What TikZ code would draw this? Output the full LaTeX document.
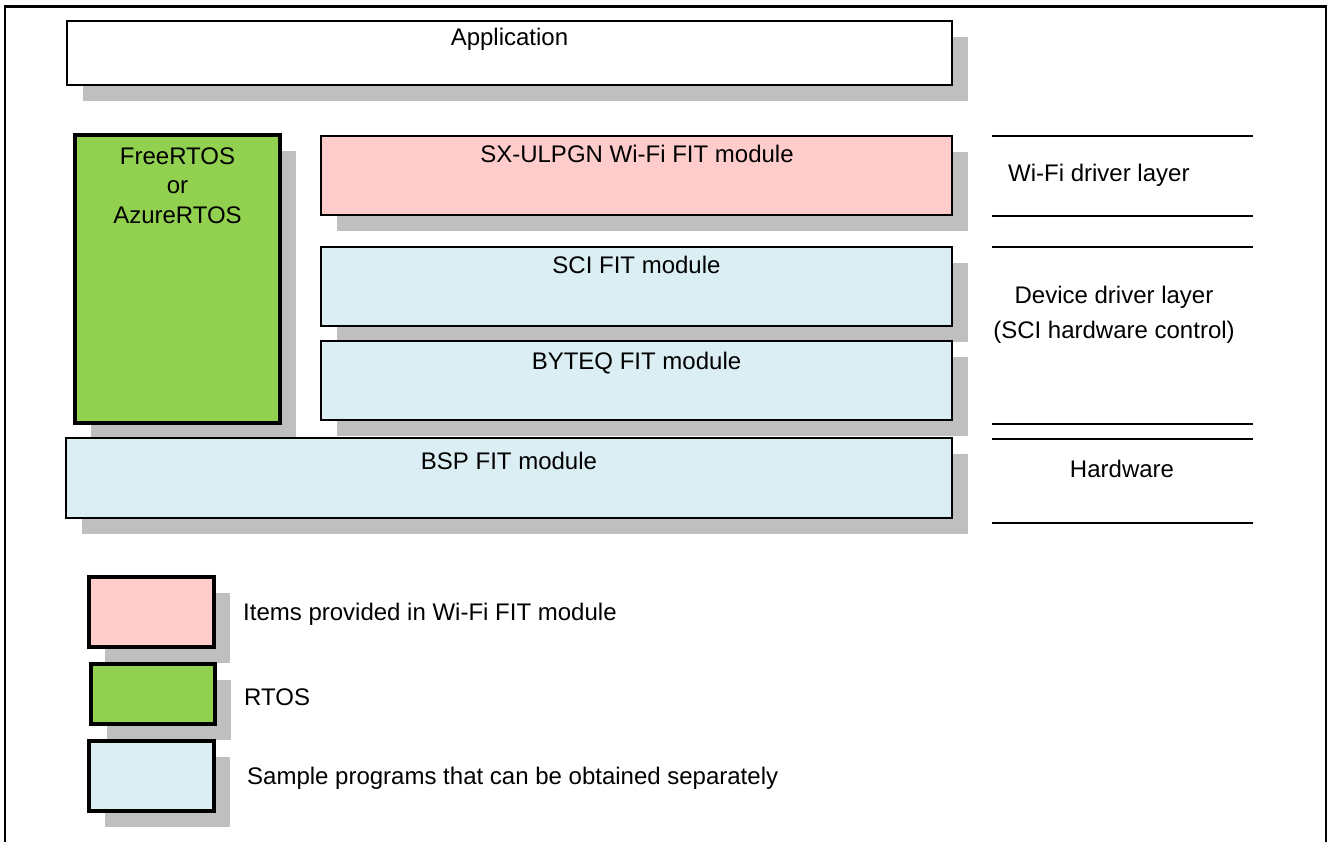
\documentclass[tikz,border=0pt]{standalone}
\usepackage{fontspec}
\setmainfont{Liberation Sans}
\usetikzlibrary{shadows}
\definecolor{shgray}{HTML}{BFBFBF}
\definecolor{pinkfill}{HTML}{FFCCCC}
\definecolor{greenfill}{HTML}{92D050}
\definecolor{bluefill}{HTML}{DAEEF3}
\begin{document}
\begin{tikzpicture}[x=1pt,y=-1pt,
  box/.style={draw=black, line width=1.8pt, inner sep=0pt,
    drop shadow={shadow xshift=16pt, shadow yshift=-16pt, fill=shgray, opacity=1}},
  thickbox/.style={box, line width=3.5pt},
  txt/.style={font=\fontsize{24pt}{29.3pt}\selectfont, inner sep=0pt, text=black},
  sep/.style={line width=1.6pt}]
\useasboundingbox (0,0) rectangle (1328,842);
% outer frame
\draw[line width=2.8pt] (5,842) -- (5,6.5) -- (1326,6.5) -- (1326,842);

% application
\node[box, fill=white, minimum width=885pt, minimum height=64pt] (app) at (509.5,53) {};
\node[txt, anchor=base] (appT) at (509.5,46) {Application};

% RTOS
\node[thickbox, fill=greenfill, minimum width=205pt, minimum height=288pt] (rtos) at (177.5,279) {};
\node[txt, anchor=north, align=center] (rtosT) at (177.5,147.5) {FreeRTOS\\or\\AzureRTOS};

% Wi-Fi module
\node[box, fill=pinkfill, minimum width=631pt, minimum height=79pt] (wifi) at (636.5,175.5) {};
\node[txt, anchor=base] (wifiT) at (637,163) {SX-ULPGN Wi-Fi FIT module};

% SCI
\node[box, fill=bluefill, minimum width=631pt, minimum height=79pt] (sci) at (636.5,286.5) {};
\node[txt, anchor=base] (sciT) at (636.5,274) {SCI FIT module};

% BYTEQ
\node[box, fill=bluefill, minimum width=631pt, minimum height=79pt] (byteq) at (636.5,380.5) {};
\node[txt, anchor=base] (byteqT) at (636.5,369) {BYTEQ FIT module};

% BSP
\node[box, fill=bluefill, minimum width=886pt, minimum height=80pt] (bsp) at (509,478) {};
\node[txt, anchor=base] (bspT) at (509,469) {BSP FIT module};

% layer separators
\draw[sep] (992,136) -- (1253,136);
\draw[sep] (992,216) -- (1253,216);
\draw[sep] (992,247) -- (1253,247);
\draw[sep] (992,424) -- (1253,424);
\draw[sep] (992,439) -- (1253,439);
\draw[sep] (992,523) -- (1253,523);
\node[txt, anchor=base west] (wifiL) at (1008,182) {Wi-Fi driver layer};
\node[txt, anchor=base] (devL1) at (1114,304) {Device driver layer};
\node[txt, anchor=base] (devL2) at (1114,338) {(SCI hardware control)};
\node[txt, anchor=base] (hwL) at (1122,477.5) {Hardware};

% legend
\node[thickbox, fill=pinkfill, minimum width=125pt, minimum height=70pt] (lp) at (151.5,612) {};
\node[thickbox, fill=greenfill, minimum width=124pt, minimum height=60pt] (lg) at (153,694) {};
\node[thickbox, fill=bluefill, minimum width=125pt, minimum height=70pt] (lb) at (151.5,776) {};
\node[txt, anchor=base west] (lpT) at (243,620) {Items provided in Wi-Fi FIT module};
\node[txt, anchor=base west] (lgT) at (244,705) {RTOS};
\node[txt, anchor=base west] (lbT) at (247,784) {Sample programs that can be obtained separately};
\end{tikzpicture}
\end{document}
